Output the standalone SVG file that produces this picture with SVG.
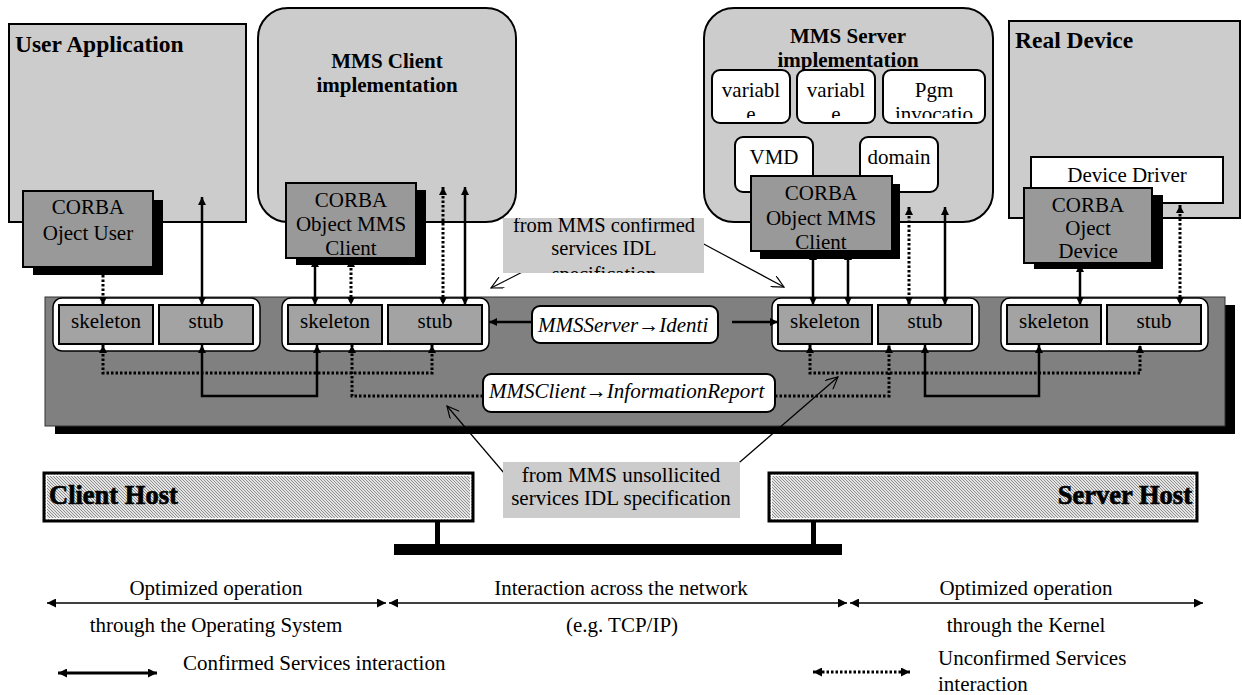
<svg xmlns="http://www.w3.org/2000/svg" width="1242" height="695" viewBox="0 0 1242 695">
<style>
.lg{fill:#cccccc;stroke:#000;stroke-width:2}
.corba{fill:#999999;stroke:#000;stroke-width:2}
.sh{fill:#000}
.wb{fill:#fff;stroke:#000;stroke-width:2}
.sk{fill:#a3a3a3;stroke:#000;stroke-width:2}
.grp{fill:#fff;stroke:#000;stroke-width:1.5}
.lab{fill:#cccccc}
.t{font-family:"Liberation Serif","Times New Roman",serif;font-size:21px;fill:#000}
.b{font-weight:bold}
.c{text-anchor:middle}
.i{font-style:italic}
.solid{stroke:#000;stroke-width:2.5;fill:none}
.dot{stroke:#000;stroke-width:3;stroke-dasharray:2.5 2;fill:none}
.thin{stroke:#000;stroke-width:1.5;fill:none}
.lead{stroke:#000;stroke-width:1.2;fill:none}
</style>
<defs>
<marker id="ah" viewBox="0 0 10 10" refX="10" refY="5" markerWidth="9" markerHeight="8" markerUnits="userSpaceOnUse" orient="auto-start-reverse"><path d="M0,0 L10,5 L0,10 z" fill="#000" stroke="none"/></marker>
<marker id="ah2" viewBox="0 0 10 10" refX="10" refY="5" markerWidth="11" markerHeight="9" markerUnits="userSpaceOnUse" orient="auto-start-reverse"><path d="M0,0 L10,5 L0,10 z" fill="#000" stroke="none"/></marker>
<marker id="open" viewBox="0 0 10 10" refX="10" refY="5" markerWidth="14" markerHeight="12" markerUnits="userSpaceOnUse" orient="auto"><path d="M0,0 L10,5 L0,10" fill="none" stroke="#000" stroke-width="1"/></marker>
<pattern id="hatch" width="3" height="3" patternUnits="userSpaceOnUse"><rect width="3" height="3" fill="#e4e4e4"/><path d="M-1,-1 L4,4" stroke="#7a7a7a" stroke-width="0.8"/></pattern>
<clipPath id="cv1"><rect x="712" y="70" width="78" height="48"/></clipPath>
<clipPath id="cv2"><rect x="797" y="70" width="78" height="48"/></clipPath>
<clipPath id="cpg"><rect x="883" y="70" width="102" height="48"/></clipPath>
<clipPath id="cconf"><rect x="503" y="218" width="201" height="55"/></clipPath>
</defs>

<g id="user-app">
<rect class="lg" x="9" y="24" width="237" height="198"/>
<text class="t b" x="15" y="52" style="font-size:23.5px">User Application</text>
</g>
<g id="mms-client">
<rect class="lg" x="258" y="8" width="258" height="214" rx="30"/>
<text class="t b c" x="387" y="68">MMS Client</text>
<text class="t b c" x="387" y="92">implementation</text>
</g>
<g id="mms-server">
<rect class="lg" x="704" y="8" width="289" height="214" rx="30"/>
<text class="t b c" x="848" y="43">MMS Server</text>
<text class="t b c" x="848" y="67">implementation</text>
</g>
<g id="var1"><rect class="wb" x="712" y="70" width="78" height="53" rx="8"/><g clip-path="url(#cv1)"><text class="t c" x="751" y="97">variabl</text><text class="t c" x="751" y="121">e</text></g></g>
<g id="var2"><rect class="wb" x="797" y="70" width="78" height="53" rx="8"/><g clip-path="url(#cv2)"><text class="t c" x="836" y="97">variabl</text><text class="t c" x="836" y="121">e</text></g></g>
<g id="pgm"><rect class="wb" x="883" y="70" width="102" height="53" rx="8"/><g clip-path="url(#cpg)"><text class="t c" x="934" y="97">Pgm</text><text class="t c" x="934" y="121">invocatio</text></g></g>
<g id="vmd"><rect class="wb" x="735" y="137" width="78" height="55" rx="8"/><text class="t c" x="774" y="164">VMD</text></g>
<g id="domain"><rect class="wb" x="860" y="137" width="78" height="55" rx="8"/><text class="t c" x="899" y="164">domain</text></g>
<g id="real-device">
<rect class="lg" x="1009" y="21" width="231" height="197"/>
<text class="t b" x="1015" y="48" style="font-size:23.5px">Real Device</text>
</g>
<g id="device-driver"><rect class="wb" x="1031" y="157" width="192" height="46"/><text class="t c" x="1127" y="182">Device Driver</text></g>

<g id="corba-user">
<rect class="sh" x="33" y="200" width="130" height="75"/>
<rect class="corba" x="23" y="191" width="130" height="76"/>
<text class="t c" x="88" y="214">CORBA</text>
<text class="t c" x="88" y="240">Oject User</text>
</g>
<g id="corba-client">
<rect class="sh" x="296" y="190" width="130" height="75"/>
<rect class="corba" x="286" y="183" width="130" height="75"/>
<text class="t c" x="351" y="207">CORBA</text>
<text class="t c" x="351" y="231">Object MMS</text>
<text class="t c" x="351" y="255">Client</text>
</g>
<g id="corba-server">
<rect class="sh" x="760" y="184" width="140" height="75"/>
<rect class="corba" x="751" y="176" width="141" height="75"/>
<text class="t c" x="821" y="200">CORBA</text>
<text class="t c" x="821" y="225">Object MMS</text>
<text class="t c" x="821" y="249">Client</text>
</g>
<g id="corba-device">
<rect class="sh" x="1034" y="195" width="129" height="74"/>
<rect class="corba" x="1024" y="188" width="128" height="75"/>
<text class="t c" x="1088" y="212">CORBA</text>
<text class="t c" x="1088" y="235">Oject</text>
<text class="t c" x="1088" y="258">Device</text>
</g>

<g id="orb-bus">
<rect class="sh" x="55" y="305" width="1180" height="129"/>
<rect x="45" y="297" width="1180" height="129" fill="#808080" stroke="#333" stroke-width="1"/>
</g>
<g id="grp1"><rect class="grp" x="53" y="298" width="207" height="53" rx="9"/><rect class="sk" x="59" y="305" width="94" height="39"/><text class="t c" x="106" y="328">skeleton</text><rect class="sk" x="159" y="305" width="94" height="39"/><text class="t c" x="206" y="328">stub</text></g>
<g id="grp2"><rect class="grp" x="282" y="298" width="207" height="53" rx="9"/><rect class="sk" x="288" y="305" width="94" height="39"/><text class="t c" x="335" y="328">skeleton</text><rect class="sk" x="388" y="305" width="94" height="39"/><text class="t c" x="435" y="328">stub</text></g>
<g id="grp3"><rect class="grp" x="772" y="298" width="207" height="53" rx="9"/><rect class="sk" x="778" y="305" width="94" height="39"/><text class="t c" x="825" y="328">skeleton</text><rect class="sk" x="878" y="305" width="94" height="39"/><text class="t c" x="925" y="328">stub</text></g>
<g id="grp4"><rect class="grp" x="1001" y="298" width="207" height="53" rx="9"/><rect class="sk" x="1007" y="305" width="94" height="39"/><text class="t c" x="1054" y="328">skeleton</text><rect class="sk" x="1107" y="305" width="94" height="39"/><text class="t c" x="1154" y="328">stub</text></g>

<g id="label-identify"><rect class="wb" x="532" y="306" width="186" height="37" rx="8"/><text class="t i" x="538" y="332">MMSServer→Identi</text></g>
<g id="label-inforeport"><rect class="wb" x="483" y="374" width="292" height="38" rx="8"/><text class="t i" x="489" y="398">MMSClient→InformationReport</text></g>

<g id="connectors">
<path class="dot" d="M103,266 V305" marker-start="url(#ah)" marker-end="url(#ah)"/>
<path class="solid" d="M202,197 V305" marker-start="url(#ah)" marker-end="url(#ah)"/>
<path class="solid" d="M315,259 V305" marker-start="url(#ah)" marker-end="url(#ah)"/>
<path class="dot" d="M351,259 V305" marker-start="url(#ah)" marker-end="url(#ah)"/>
<path class="dot" d="M443,187 V305" marker-start="url(#ah)" marker-end="url(#ah)"/>
<path class="solid" d="M465,187 V305" marker-start="url(#ah)" marker-end="url(#ah)"/>
<path class="solid" d="M813,252 V305" marker-start="url(#ah)" marker-end="url(#ah)"/>
<path class="solid" d="M848,252 V305" marker-start="url(#ah)" marker-end="url(#ah)"/>
<path class="dot" d="M909,207 V305" marker-start="url(#ah)" marker-end="url(#ah)"/>
<path class="solid" d="M945,207 V305" marker-start="url(#ah)" marker-end="url(#ah)"/>
<path class="solid" d="M1080,264 V305" marker-start="url(#ah)" marker-end="url(#ah)"/>
<path class="dot" d="M1180,205 V305" marker-start="url(#ah)" marker-end="url(#ah)"/>
<path class="solid" d="M202,345 V396 H317 V345" marker-start="url(#ah)" marker-end="url(#ah)"/>
<path class="dot" d="M103,345 V373 H432 V345" marker-start="url(#ah)" marker-end="url(#ah)"/>
<path class="dot" d="M483,396 H352 V345" marker-end="url(#ah)"/>
<path class="dot" d="M775,396 H889 V345" marker-end="url(#ah)"/>
<path class="dot" d="M810,345 V373 H1140 V345" marker-start="url(#ah)" marker-end="url(#ah)"/>
<path class="solid" d="M925,345 V396 H1039 V345" marker-start="url(#ah)" marker-end="url(#ah)"/>
<path class="solid" d="M532,322 H489" marker-end="url(#ah)"/>
<path class="solid" d="M732,322 H778" marker-end="url(#ah)"/>
<path class="lead" d="M540,263 L491,288" marker-end="url(#open)"/>
<path class="lead" d="M700,242 L784,287" marker-end="url(#open)"/>
<path class="lead" d="M510,480 L447,406" marker-end="url(#open)"/>
<path class="lead" d="M733,468 L838,377" marker-end="url(#open)"/>
</g>

<g id="label-confirmed">
<rect class="lab" x="503" y="218" width="201" height="55"/>
<g clip-path="url(#cconf)">
<text class="t c" x="604" y="232" style="font-size:20.5px">from MMS confirmed</text>
<text class="t c" x="604" y="255" style="font-size:20.5px">services IDL</text>
<text class="t c" x="604" y="281" style="font-size:20.5px">specification</text>
</g>
</g>
<g id="label-unsolicited">
<rect class="lab" x="503" y="462" width="237" height="56"/>
<text class="t c" x="621" y="482">from MMS unsollicited</text>
<text class="t c" x="621" y="505">services IDL specification</text>
</g>

<g id="client-host">
<rect x="44" y="473" width="429" height="48" fill="url(#hatch)" stroke="#000" stroke-width="3"/>
<rect x="46.5" y="475.5" width="424" height="43" fill="none" stroke="#fff" stroke-width="1"/>
<text class="t b" x="49" y="504" style="font-size:26.5px;stroke:#000;stroke-width:0.7">Client Host</text>
</g>
<g id="server-host">
<rect x="769" y="473" width="428" height="48" fill="url(#hatch)" stroke="#000" stroke-width="3"/>
<rect x="771.5" y="475.5" width="423" height="43" fill="none" stroke="#fff" stroke-width="1"/>
<text class="t b" x="1192" y="504" text-anchor="end" style="font-size:26.5px;stroke:#000;stroke-width:0.7">Server Host</text>
</g>
<g id="network">
<rect x="435" y="521" width="5" height="24" fill="#000"/>
<rect x="811" y="521" width="5" height="24" fill="#000"/>
<rect x="394" y="544" width="448" height="11" fill="#000"/>
</g>

<g id="scale">
<path class="thin" d="M47,603 H386" marker-start="url(#ah2)" marker-end="url(#ah2)"/>
<path class="thin" d="M389,603 H847" marker-start="url(#ah2)" marker-end="url(#ah2)"/>
<path class="thin" d="M850,603 H1203" marker-start="url(#ah2)" marker-end="url(#ah2)"/>
<text class="t c" x="216" y="595">Optimized operation</text>
<text class="t c" x="216" y="632">through the Operating System</text>
<text class="t c" x="621" y="595">Interaction across the network</text>
<text class="t c" x="622" y="632">(e.g. TCP/IP)</text>
<text class="t c" x="1026" y="595">Optimized operation</text>
<text class="t c" x="1026" y="632">through the Kernel</text>
</g>
<g id="legend">
<path class="solid" style="stroke-width:3" d="M58,673 H157" marker-start="url(#ah2)" marker-end="url(#ah2)"/>
<text class="t" x="183" y="670">Confirmed Services interaction</text>
<path class="dot" d="M813,672 H910" marker-start="url(#ah2)" marker-end="url(#ah2)"/>
<text class="t" x="938" y="665">Unconfirmed Services</text>
<text class="t" x="938" y="691">interaction</text>
</g>
</svg>
